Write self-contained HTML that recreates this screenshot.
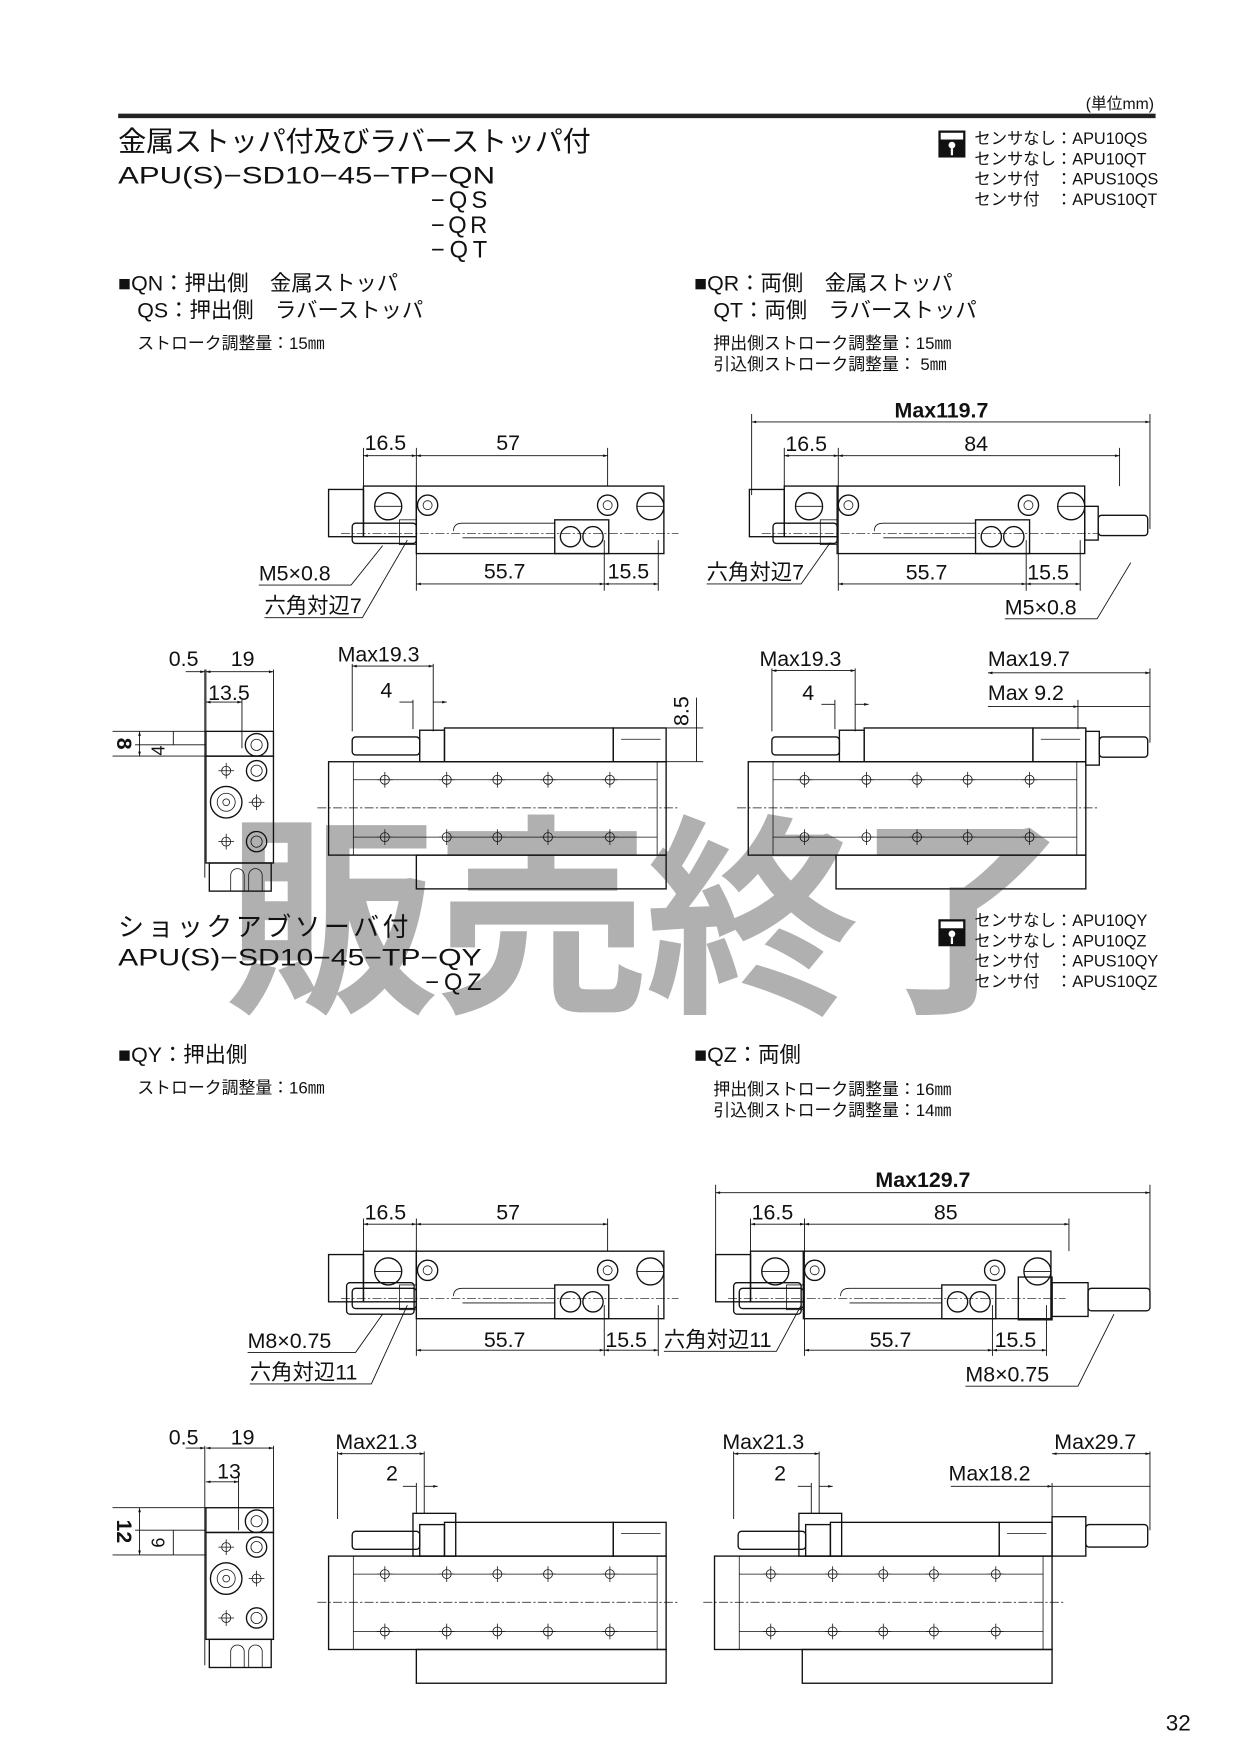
<!DOCTYPE html>
<html><head><meta charset="utf-8"><style>
html,body{margin:0;padding:0;background:#fff}
svg{display:block}
text{font-family:"Liberation Sans","Noto Sans CJK JP",sans-serif;fill:#111}
.d{font-size:19px}
.s{font-size:16px}
.ln{stroke:#111;stroke-width:1.2;fill:none}
.th{stroke:#111;stroke-width:0.7;fill:none}
.dm{stroke:#111;stroke-width:0.8;fill:none}
.cl{stroke:#111;stroke-width:0.6;fill:none;stroke-dasharray:8 2 2 2}
</style></head><body>
<svg width="1240" height="1753" viewBox="0 0 1102 1558" xmlns="http://www.w3.org/2000/svg">
<defs>
<marker id="a" viewBox="0 0 10 10" refX="10" refY="5" markerWidth="7" markerHeight="5" orient="auto-start-reverse"><path d="M0,2 L10,5 L0,8z" fill="#111"/></marker>
<g id="hole"><circle r="4" class="th"/><path d="M-7,0H7M0,-7V7" class="th"/></g>
<g id="sv">
<rect x="0" y="0" width="47" height="45" class="ln"/>
<rect x="47" y="0" width="220" height="60" class="ln"/>
<rect x="-31" y="3" width="31" height="42" class="ln"/>
<rect x="-10" y="33" width="57" height="18" rx="3" class="ln"/>
<rect x="32" y="30" width="15" height="22" class="th"/>
<circle cx="22" cy="18" r="12" class="ln"/><path d="M10,18H34" class="th"/>
<circle cx="57" cy="17" r="9" class="ln"/><circle cx="57" cy="17" r="4" class="th"/>
<circle cx="217" cy="17" r="9" class="ln"/><circle cx="217" cy="17" r="4" class="th"/>
<circle cx="255" cy="18" r="12" class="ln"/><path d="M243,18H267" class="th"/>
<path d="M80,40 Q80,33 88,33 H170 M88,46 H170" class="th"/>
<rect x="170" y="30" width="48" height="30" class="ln"/>
<circle cx="184" cy="45" r="9" class="ln"/><circle cx="204" cy="45" r="9" class="ln"/>
<path d="M-20,42H280" class="cl"/>
</g>
<g id="fv">
<rect x="0" y="0" width="300" height="83" class="ln"/>
<path d="M22,0V83M22,16H292M22,67H292M292,0V83" class="th"/>
<path d="M-10,41H310" class="cl"/>
<use href="#hole" x="50" y="16"/><use href="#hole" x="105" y="16"/><use href="#hole" x="150" y="16"/><use href="#hole" x="195" y="16"/><use href="#hole" x="250" y="16"/>
<use href="#hole" x="50" y="67"/><use href="#hole" x="105" y="67"/><use href="#hole" x="150" y="67"/><use href="#hole" x="195" y="67"/><use href="#hole" x="250" y="67"/>
<rect x="21" y="-22" width="60" height="16" rx="3" class="ln"/>
<rect x="81" y="-28" width="22" height="28" class="ln"/>
<rect x="103" y="-30" width="150" height="30" class="ln"/>
<rect x="253" y="-30" width="47" height="30" class="ln"/>
<path d="M260,-20H295" class="th"/>
<rect x="78" y="83" width="222" height="30" class="ln"/>
</g>
<g id="ev">
<rect x="0" y="0" width="60" height="22" class="ln"/>
<rect x="0" y="22" width="60" height="95" class="ln"/>
<circle cx="45" cy="12" r="10" class="ln"/><circle cx="45" cy="12" r="5" class="th"/>
<circle cx="45" cy="35" r="9" class="ln"/><circle cx="45" cy="35" r="5" class="th"/>
<circle cx="18" cy="63" r="14" class="ln"/><circle cx="18" cy="63" r="8" class="th"/><circle cx="18" cy="63" r="3" class="th"/>
<circle cx="45" cy="98" r="9" class="ln"/><circle cx="45" cy="98" r="5" class="th"/>
<use href="#hole" x="18" y="35"/><use href="#hole" x="45" y="63"/><use href="#hole" x="18" y="98"/>
<rect x="3" y="117" width="55" height="25" class="ln"/>
<path d="M22,142V128a6,6 0 0 1 12,0V142M38,142V128a6,6 0 0 1 12,0V142" class="th"/>
</g>
</defs>

<!-- watermark -->
<text x="200" y="885" style="font-size:190px;font-weight:bold;fill:#b0b0b0" textLength="750">販売終了</text>

<!-- header -->
<text x="965" y="97" class="s" style="font-size:14px">(単位mm)</text>
<rect x="105" y="101" width="922" height="4" fill="#222"/>
<text x="105" y="134" style="font-size:25px" textLength="420">金属ストッパ付及びラバーストッパ付</text>
<text x="105" y="163" style="font-size:21px" textLength="335" lengthAdjust="spacingAndGlyphs">APU(S)−SD10−45−TP−QN</text>
<text x="383" y="185" style="font-size:21px" textLength="50">−QS</text>
<text x="383" y="207" style="font-size:21px" textLength="50">−QR</text>
<text x="383" y="229" style="font-size:21px" textLength="50">−QT</text>
<g id="cad1"><rect x="834" y="116" width="24" height="24" fill="#111"/><rect x="836" y="118" width="20" height="6" fill="#fff"/><circle cx="846" cy="129" r="3" fill="#fff"/><rect x="845" y="132" width="2" height="6" fill="#fff"/></g>
<text x="866" y="128" style="font-size:14.5px">センサなし：APU10QS</text>
<text x="866" y="146" style="font-size:14.5px">センサなし：APU10QT</text>
<text x="866" y="164" style="font-size:14.5px">センサ付　：APUS10QS</text>
<text x="866" y="182" style="font-size:14.5px">センサ付　：APUS10QT</text>

<text x="105" y="258" style="font-size:19px">■QN：押出側　金属ストッパ</text>
<text x="122" y="282" style="font-size:19px">QS：押出側　ラバーストッパ</text>
<text x="122" y="310" style="font-size:15px">ストローク調整量：15㎜</text>
<text x="617" y="258" style="font-size:19px">■QR：両側　金属ストッパ</text>
<text x="634" y="282" style="font-size:19px">QT：両側　ラバーストッパ</text>
<text x="634" y="310" style="font-size:15px">押出側ストローク調整量：15㎜</text>
<text x="634" y="329" style="font-size:15px">引込側ストローク調整量：  5㎜</text>

<!-- top-left side view -->
<use href="#sv" x="323" y="432"/>
<path d="M323,398V432M370,398V525M540,398V432M537,480V525M585,480V525" class="dm"/>
<path d="M323,405H370" class="dm" marker-start="url(#a)" marker-end="url(#a)"/>
<path d="M370,405H540" class="dm" marker-start="url(#a)" marker-end="url(#a)"/>
<path d="M370,519H537" class="dm" marker-start="url(#a)" marker-end="url(#a)"/>
<path d="M537,519H585" class="dm" marker-start="url(#a)" marker-end="url(#a)"/>
<text x="324" y="400" class="d">16.5</text><text x="441" y="400" class="d">57</text>
<text x="430" y="514" class="d">55.7</text><text x="540" y="514" class="d">15.5</text>
<text x="230" y="516" class="d">M5×0.8</text><path d="M230,520H312L340,485" class="dm"/>
<text x="235" y="545" class="d">六角対辺7</text><path d="M235,549H322L362,480" class="dm"/>

<!-- top-right side view -->
<use href="#sv" x="697" y="432"/>
<rect x="964" y="450" width="12" height="30" class="ln"/><rect x="976" y="458" width="44" height="18" rx="3" class="ln"/>
<path d="M668,368V440M1022,368V470M697,398V432M745,398V525M995,398V432M912,480V525M960,480V525" class="dm"/>
<path d="M668,375H1022" class="dm" marker-start="url(#a)" marker-end="url(#a)"/>
<path d="M697,405H745" class="dm" marker-start="url(#a)" marker-end="url(#a)"/>
<path d="M745,405H995" class="dm" marker-start="url(#a)" marker-end="url(#a)"/>
<path d="M745,519H912" class="dm" marker-start="url(#a)" marker-end="url(#a)"/>
<path d="M912,519H960" class="dm" marker-start="url(#a)" marker-end="url(#a)"/>
<text x="795" y="371" class="d" style="font-weight:bold">Max119.7</text>
<text x="698" y="401" class="d">16.5</text><text x="857" y="401" class="d">84</text>
<text x="805" y="515" class="d">55.7</text><text x="913" y="515" class="d">15.5</text>
<text x="628" y="515" class="d">六角対辺7</text><path d="M628,519H712L738,482" class="dm"/>
<text x="893" y="546" class="d">M5×0.8</text><path d="M893,550H975L1005,500" class="dm"/>

<!-- middle end view -->
<use href="#ev" x="183" y="650"/>
<path d="M182,595V780M183,595V650M243,595V650M215,622V665" class="dm"/>
<path d="M165,597H182" class="dm" marker-end="url(#a)"/><path d="M183,597H243" class="dm" marker-start="url(#a)" marker-end="url(#a)"/>
<path d="M183,624H215" class="dm" marker-start="url(#a)" marker-end="url(#a)"/>
<text x="150" y="592" class="d">0.5</text><text x="205" y="592" class="d">19</text><text x="185" y="622" class="d">13.5</text>
<path d="M100,650H183M120,662H183M100,672H183" class="dm"/>
<path d="M124,650V672" class="dm" marker-start="url(#a)" marker-end="url(#a)"/>
<path d="M154,650V662" class="dm"/>
<text transform="translate(110,661) rotate(90)" class="d" style="font-weight:bold" text-anchor="middle" dominant-baseline="central">8</text>
<text transform="translate(141,667) rotate(-90)" class="s" text-anchor="middle" dominant-baseline="central">4</text>

<!-- middle center front view -->
<use href="#fv" x="292" y="677"/>
<path d="M313,590V650M385,590V650M367,622V648" class="dm"/>
<path d="M313,592H385" class="dm" marker-start="url(#a)" marker-end="url(#a)"/>
<path d="M355,624H367M385,624H397" class="dm" marker-end="url(#a)"/>
<text x="300" y="588" class="d">Max19.3</text><text x="338" y="620" class="d">4</text>
<path d="M590,647H625M590,677H625" class="dm"/><path d="M619,620V677" class="dm"/>
<text transform="translate(612,632) rotate(-90)" class="d" text-anchor="middle">8.5</text>

<!-- middle right front view -->
<use href="#fv" x="665" y="677"/>
<rect x="965" y="650" width="12" height="30" class="ln"/><rect x="977" y="655" width="43" height="18" rx="3" class="ln"/>
<path d="M686,594V650M760,594V650M742,622V648M1022,594V660M958,622V648" class="dm"/>
<path d="M686,596H760" class="dm" marker-start="url(#a)" marker-end="url(#a)"/>
<path d="M730,626H742M760,626H772" class="dm" marker-end="url(#a)"/>
<path d="M878,598H1022" class="dm" marker-start="url(#a)" marker-end="url(#a)"/>
<path d="M878,628H958" class="dm" marker-end="url(#a)"/><path d="M958,628H1022" class="dm"/>
<text x="675" y="592" class="d">Max19.3</text><text x="713" y="622" class="d">4</text>
<text x="878" y="592" class="d">Max19.7</text><text x="878" y="622" class="d">Max 9.2</text>

<!-- section 2 -->
<text x="105" y="832" style="font-size:23px" textLength="258">ショックアブソーバ付</text>
<text x="105" y="858" style="font-size:21px" textLength="323" lengthAdjust="spacingAndGlyphs">APU(S)−SD10−45−TP−QY</text>
<text x="378" y="880" style="font-size:21px" textLength="50">−QZ</text>
<use href="#cad1" y="701"/>
<text x="866" y="823" style="font-size:14.5px">センサなし：APU10QY</text>
<text x="866" y="841" style="font-size:14.5px">センサなし：APU10QZ</text>
<text x="866" y="859" style="font-size:14.5px">センサ付　：APUS10QY</text>
<text x="866" y="877" style="font-size:14.5px">センサ付　：APUS10QZ</text>
<text x="105" y="944" style="font-size:19px">■QY：押出側</text>
<text x="122" y="972" style="font-size:15px">ストローク調整量：16㎜</text>
<text x="617" y="944" style="font-size:19px">■QZ：両側</text>
<text x="634" y="973" style="font-size:15px">押出側ストローク調整量：16㎜</text>
<text x="634" y="992" style="font-size:15px">引込側ストローク調整量：14㎜</text>

<!-- bottom-left side view -->
<use href="#sv" x="323" y="1112"/>
<rect x="308" y="1140" width="60" height="28" rx="3" class="ln" fill="#fff"/>
<path d="M323,1083V1112M370,1083V1205M540,1083V1112M537,1160V1205M585,1160V1205" class="dm"/>
<path d="M323,1088H370" class="dm" marker-start="url(#a)" marker-end="url(#a)"/>
<path d="M370,1088H540" class="dm" marker-start="url(#a)" marker-end="url(#a)"/>
<path d="M370,1200H537" class="dm" marker-start="url(#a)" marker-end="url(#a)"/>
<path d="M537,1200H585" class="dm" marker-start="url(#a)" marker-end="url(#a)"/>
<text x="324" y="1084" class="d">16.5</text><text x="441" y="1084" class="d">57</text>
<text x="430" y="1197" class="d">55.7</text><text x="538" y="1197" class="d">15.5</text>
<text x="220" y="1198" class="d">M8×0.75</text><path d="M220,1202H316L340,1168" class="dm"/>
<text x="222" y="1226" class="d">六角対辺11</text><path d="M222,1230H330L362,1160" class="dm"/>

<!-- bottom-right side view -->
<use href="#sv" x="667" y="1112"/>
<rect x="652" y="1140" width="60" height="28" rx="3" class="ln" fill="#fff"/>
<rect x="905" y="1135" width="30" height="38" class="ln"/><rect x="935" y="1140" width="32" height="30" class="ln"/><rect x="967" y="1145" width="55" height="20" rx="3" class="ln"/>
<path d="M636,1053V1130M1022,1053V1150M667,1083V1112M715,1083V1205M950,1083V1112M882,1160V1205M930,1160V1205" class="dm"/>
<path d="M636,1060H1022" class="dm" marker-start="url(#a)" marker-end="url(#a)"/>
<path d="M667,1088H715" class="dm" marker-start="url(#a)" marker-end="url(#a)"/>
<path d="M715,1088H950" class="dm" marker-start="url(#a)" marker-end="url(#a)"/>
<path d="M715,1200H882" class="dm" marker-start="url(#a)" marker-end="url(#a)"/>
<path d="M882,1200H930" class="dm" marker-start="url(#a)" marker-end="url(#a)"/>
<text x="778" y="1055" class="d" style="font-weight:bold">Max129.7</text>
<text x="668" y="1084" class="d">16.5</text><text x="830" y="1084" class="d">85</text>
<text x="773" y="1197" class="d">55.7</text><text x="884" y="1197" class="d">15.5</text>
<text x="590" y="1197" class="d">六角対辺11</text><path d="M590,1201H690L712,1160" class="dm"/>
<text x="858" y="1228" class="d">M8×0.75</text><path d="M858,1232H958L990,1168" class="dm"/>

<!-- bottom end view -->
<use href="#ev" x="183" y="1340"/>
<path d="M182,1285V1480M243,1285V1340M212,1313V1360" class="dm"/>
<path d="M165,1287H182" class="dm" marker-end="url(#a)"/><path d="M183,1287H243" class="dm" marker-start="url(#a)" marker-end="url(#a)"/>
<path d="M183,1317H212" class="dm" marker-start="url(#a)" marker-end="url(#a)"/>
<text x="150" y="1284" class="d">0.5</text><text x="205" y="1284" class="d">19</text><text x="193" y="1314" class="d">13</text>
<path d="M100,1340H183M120,1360H183M100,1382H183" class="dm"/>
<path d="M124,1340V1382" class="dm" marker-start="url(#a)" marker-end="url(#a)"/>
<path d="M154,1360V1382" class="dm"/>
<text transform="translate(110,1361) rotate(90)" class="d" style="font-weight:bold" text-anchor="middle" dominant-baseline="central">12</text>
<text transform="translate(141,1371) rotate(-90)" class="s" text-anchor="middle" dominant-baseline="central">6</text>

<!-- bottom center front view -->
<use href="#fv" x="292" y="1383"/>
<rect x="367" y="1345" width="38" height="38" class="ln"/>
<path d="M300,1290V1350M377,1290V1345M370,1318V1345" class="dm"/>
<path d="M300,1292H377" class="dm" marker-start="url(#a)" marker-end="url(#a)"/>
<path d="M358,1321H370M377,1321H389" class="dm" marker-end="url(#a)"/>
<text x="298" y="1288" class="d">Max21.3</text><text x="343" y="1316" class="d">2</text>

<!-- bottom right front view -->
<use href="#fv" x="635" y="1383"/>
<rect x="710" y="1345" width="38" height="38" class="ln"/>
<rect x="935" y="1348" width="30" height="35" class="ln"/><rect x="965" y="1355" width="55" height="20" rx="3" class="ln"/>
<path d="M652,1290V1350M728,1290V1345M721,1318V1345M1022,1290V1360M935,1318V1348" class="dm"/>
<path d="M652,1292H728" class="dm" marker-start="url(#a)" marker-end="url(#a)"/>
<path d="M709,1321H721M728,1321H740" class="dm" marker-end="url(#a)"/>
<path d="M935,1292H1022" class="dm" marker-start="url(#a)" marker-end="url(#a)"/>
<path d="M845,1321H935" class="dm" marker-end="url(#a)"/><path d="M935,1321H1022" class="dm"/>
<text x="642" y="1288" class="d">Max21.3</text><text x="688" y="1316" class="d">2</text>
<text x="937" y="1288" class="d">Max29.7</text><text x="843" y="1316" class="d">Max18.2</text>

<text x="1036" y="1538" style="font-size:20px">32</text>
</svg>
</body></html>
